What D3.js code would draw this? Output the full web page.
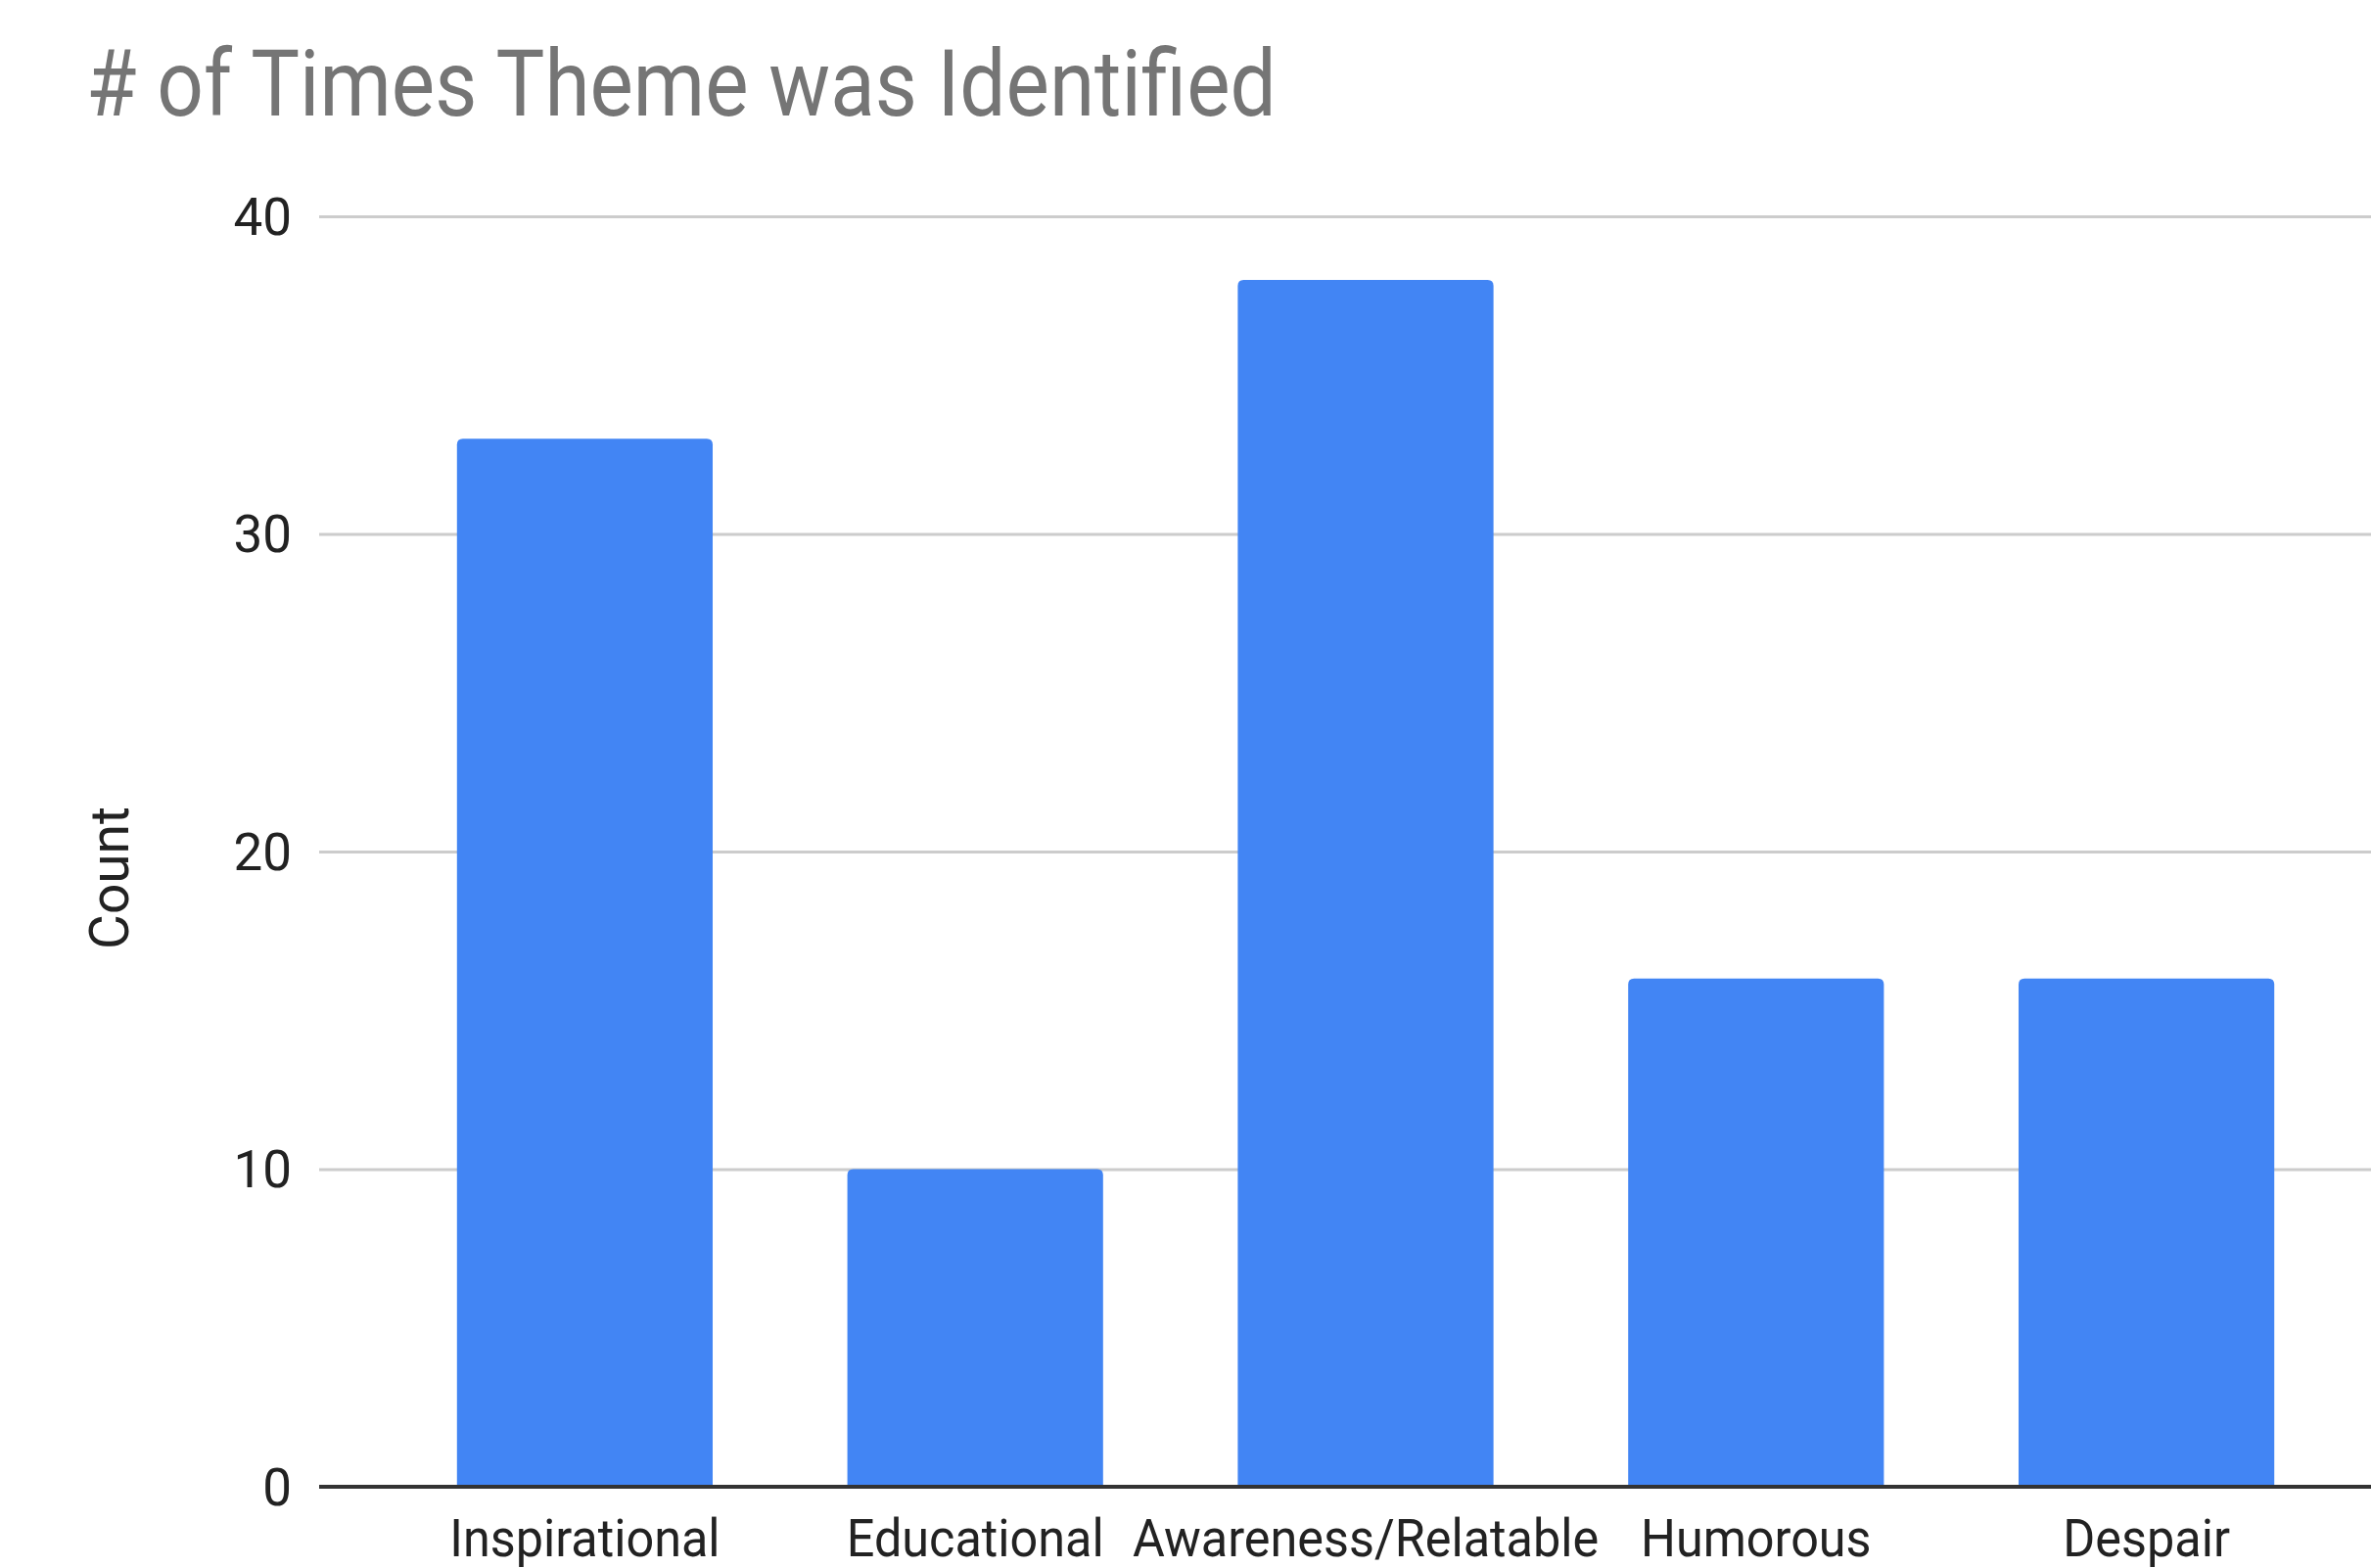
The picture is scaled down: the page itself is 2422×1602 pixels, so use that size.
<!DOCTYPE html>
<html>
<head>
<meta charset="utf-8">
<script src="https://cdn.jsdelivr.net/npm/d3@7"></script>
<style>
  body { margin: 0; background: #fff; }
  svg { display: block; font-family: Roboto, "Noto Sans", sans-serif; }
</style>
</head>
<body>
<div id="chart"></div>
<script>
var chartTitle = "# of Times Theme was Identified";
var yTitle = "Count";
var themes = ["Inspirational", "Educational", "Awareness/Relatable", "Humorous", "Despair"];
var counts = [33, 10, 38, 16, 16];
var yTicks = [0, 10, 20, 30, 40];

var W = 2422, H = 1602;

// the source picture's text is a bit narrower than Roboto, squeeze it horizontally
function squeeze(sel, factor)
{
    sel.each(function(){
        var len = this.getComputedTextLength();
        d3.select(this)
            .attr("textLength", len * factor)
            .attr("lengthAdjust", "spacingAndGlyphs");
    });
}

var svg = d3.select("#chart").append("svg")
    .attr("width", W)
    .attr("height", H);

var x = d3.scaleBand()
    .domain(themes)
    .range([398, 2392])
    .paddingInner(0.345)
    .paddingOuter(0.1725);

var y = d3.scaleLinear()
    .domain([0, 40])
    .range([1519, 221]);

// title
svg.append("text")
    .attr("x", 88)
    .attr("y", 118)
    .attr("fill", "#757575")
    .style("font-size", "94px")
    .text(chartTitle)
    .call(squeeze, 0.89);

// y axis title
svg.append("text")
    .attr("transform", "translate(131,897) rotate(-90)")
    .attr("text-anchor", "middle")
    .attr("fill", "#222")
    .style("font-size", "55px")
    .text(yTitle);

// gridlines + tick labels
var yAxis = svg.append("g")
    .attr("class", "axis axis--y")
    .attr("transform", "translate(326,0)")
    .call(d3.axisLeft(y).tickValues(yTicks).tickSize(-(W - 326)).tickPadding(28));

yAxis.select(".domain").remove();
yAxis.selectAll(".tick line")
    .attr("stroke", function(d){ return d === 0 ? "none" : "#cccccc"; })
    .attr("stroke-width", 3);
yAxis.selectAll(".tick text")
    .attr("fill", "#222")
    .attr("dy", "0.34em")
    .style("font-size", "53px")
    .style("font-family", "Roboto, sans-serif");

// bars with slightly rounded tops
var r = 6;
svg.append("g")
    .selectAll("path")
    .data(counts)
    .enter().append("path")
    .attr("fill", "#4285f4")
    .attr("d", function(d, i) {
        var x0 = x(themes[i]), x1 = x0 + x.bandwidth();
        var top = y(d), bot = y(0);
        return "M" + x0 + "," + bot +
            "V" + (top + r) +
            "Q" + x0 + "," + top + " " + (x0 + r) + "," + top +
            "H" + (x1 - r) +
            "Q" + x1 + "," + top + " " + x1 + "," + (top + r) +
            "V" + bot + "Z";
    });

// baseline + category labels
var xAxis = svg.append("g")
    .attr("class", "axis axis--x")
    .attr("transform", "translate(0," + y(0) + ")")
    .call(d3.axisBottom(x).tickSize(0).tickPadding(0));

xAxis.select(".domain").remove();
xAxis.append("line")
    .attr("x1", 326)
    .attr("x2", W)
    .attr("stroke", "#333")
    .attr("stroke-width", 4);
xAxis.selectAll(".tick text")
    .attr("fill", "#222")
    .attr("y", 71)
    .attr("dy", 0)
    .style("font-size", "53px")
    .style("font-family", "Roboto, sans-serif")
    .call(squeeze, 0.95);
</script>
</body>
</html>
